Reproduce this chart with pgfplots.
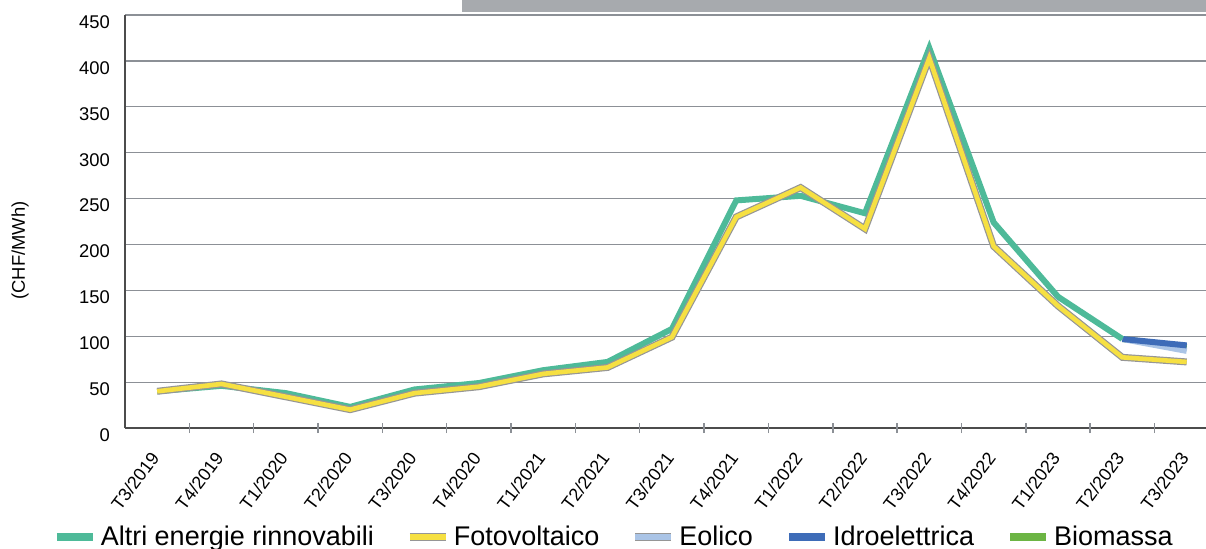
\documentclass[border=0pt]{standalone}
\usepackage{pgfplots}
\pgfplotsset{compat=1.18}
\usepackage{fontspec}
\setmainfont{Liberation Sans}
\definecolor{cteal}{RGB}{78,186,153}
\definecolor{cyell}{RGB}{246,224,66}
\definecolor{clblue}{RGB}{170,196,230}
\definecolor{cblue}{RGB}{62,108,184}
\definecolor{cgreen}{RGB}{108,181,68}
\definecolor{cgrid}{RGB}{140,144,150}
\definecolor{cbar}{RGB}{167,170,174}
\definecolor{cout}{RGB}{150,150,150}
\begin{document}
\begin{tikzpicture}
\useasboundingbox (-62.5pt,-60pt) rectangle (540.5pt,214pt);
\begin{axis}[
  scale only axis,
  width=540.5pt, height=206.5pt,
  xmin=-0.5, xmax=16.3,
  ymin=0, ymax=450,
  axis x line=bottom, axis y line=left,
  axis line style={draw=black!70, line width=0.8pt, -},
  ytick={0,50,...,450},
  ymajorgrids,
  grid style={cgrid, line width=0.6pt},
  major tick length=0pt,
  yticklabel style={font=\fontsize{9.2}{11}\selectfont, yshift=-3.5pt, xshift=-4pt},
  /pgf/number format/assume math mode=true,
  xtick={0,...,16},
  xticklabels={T3/2019,T4/2019,T1/2020,T2/2020,T3/2020,T4/2020,T1/2021,T2/2021,T3/2021,T4/2021,T1/2022,T2/2022,T3/2022,T4/2022,T1/2023,T2/2023,T3/2023},
  xticklabel style={font=\fontsize{9}{11}\selectfont, xshift=1pt, yshift=-10.5pt, rotate=53, anchor=east},
  extra x ticks={0.5,1.5,...,15.5},
  extra x tick labels={},
  extra x tick style={major tick length=5pt, tick style={cgrid, line width=0.7pt}, grid=none},
  ylabel={(CHF/MWh)},
  ylabel style={font=\fontsize{9.2}{11}\selectfont, at={(axis description cs:-0.097,0.43)}, anchor=center, rotate=0},
  legend columns=5,
  legend style={draw=none, fill=none, at={(0.453,-0.264)}, anchor=center,
    font=\fontsize{13.5}{16}\selectfont,
    /tikz/every even column/.append style={column sep=14pt},
    /tikz/every odd column/.append style={column sep=0pt}},
  legend cell align=left,
  legend image code/.code={\draw[#1] (0pt,0pt) -- (18pt,0pt);},
]
% legend entries
\addlegendimage{cteal, line width=4pt}
\addlegendentry{Altri energie rinnovabili}
\addlegendimage{draw=cout, double=cyell, double distance=2.8pt, line width=0.6pt}
\addlegendentry{Fotovoltaico}
\addlegendimage{draw=cout, double=clblue, double distance=2.8pt, line width=0.6pt}
\addlegendentry{Eolico}
\addlegendimage{cblue, line width=4pt}
\addlegendentry{Idroelettrica}
\addlegendimage{cgreen, line width=4pt}
\addlegendentry{Biomassa}
% data
\addplot[forget plot, cgreen, line width=3pt] coordinates {(15,97) (16,88)};
\addplot[forget plot, clblue, line width=3pt] coordinates {(15,97) (16,84)};
\addplot[forget plot, cblue, line width=3pt] coordinates {(15,97) (16,90)};
\addplot[forget plot, cteal, line width=3pt, line join=miter] coordinates {
 (0,40) (1,46) (2,38) (3,23) (4,42) (5,49) (6,63) (7,72) (8,108) (9,248) (10,253) (11,234) (12,414) (13,224) (14,143) (15,97)};
\addplot[forget plot, draw=cout, double=cyell, double distance=2.3pt, line width=0.6pt, line join=miter] coordinates {
 (0,40) (1,48) (2,34) (3,20) (4,38) (5,45) (6,59) (7,66) (8,99) (9,230) (10,262) (11,217) (12,403) (13,198) (14,133) (15,77) (16,72)};
\end{axis}
\fill[cbar] (168.5pt,208pt) rectangle (540.5pt,214pt);
\end{tikzpicture}
\end{document}
